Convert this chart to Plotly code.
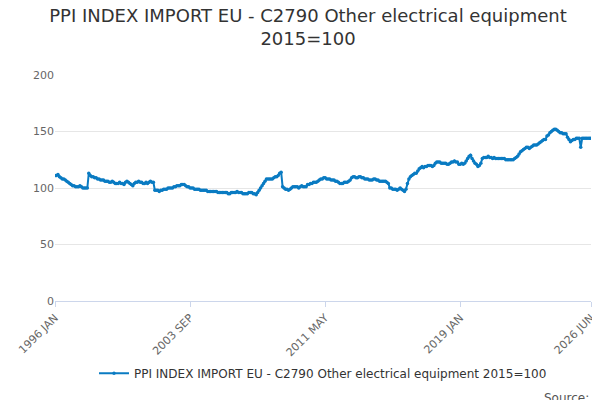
import plotly.graph_objects as go

## monthly index values, one list per year
y1996 = [111, 111, 112, 110, 109, 108, 108, 107, 106, 105, 104, 103]
y1997 = [102, 102, 101, 101, 101, 102, 101, 100, 100, 100, 100, 113]
y1998 = [111, 110, 110, 109, 109, 108, 108, 107, 107, 107, 106, 106]
y1999 = [106, 105, 105, 106, 105, 104, 104, 104, 105, 104, 104, 103]
y2000 = [105, 106, 105, 104, 103, 102, 104, 105, 105, 106, 105, 105]
y2001 = [104, 104, 105, 104, 105, 106, 105, 105, 98, 98, 98, 97]
y2002 = [98, 98, 99, 99, 99, 100, 100, 100, 100, 101, 101, 102]
y2003 = [102, 102, 103, 103, 103, 102, 101, 101, 100, 100, 100, 99]
y2004 = [99, 99, 99, 98, 98, 98, 98, 98, 97, 97, 97, 97]
y2005 = [97, 97, 97, 96, 96, 96, 96, 96, 96, 96, 95, 95]
y2006 = [96, 96, 96, 96, 97, 96, 96, 96, 95, 95, 95, 95]
y2007 = [96, 96, 96, 95, 95, 94, 96, 98, 100, 102, 104, 106]
y2008 = [108, 108, 108, 108, 108, 109, 110, 110, 111, 113, 114, 101]
y2009 = [100, 99, 99, 98, 99, 100, 101, 101, 101, 101, 100, 101]
y2010 = [102, 101, 101, 101, 103, 103, 104, 104, 105, 105, 105, 106]
y2011 = [107, 108, 108, 109, 109, 108, 108, 108, 107, 107, 107, 106]
y2012 = [106, 105, 104, 104, 104, 105, 105, 105, 106, 107, 109, 110]
y2013 = [110, 109, 109, 110, 110, 109, 109, 108, 108, 108, 107, 107]
y2014 = [107, 108, 108, 107, 107, 106, 106, 106, 106, 106, 105, 104]
y2015 = [100, 100, 99, 99, 99, 98, 99, 100, 99, 98, 97, 99]
y2016 = [104, 108, 110, 111, 112, 113, 113, 115, 117, 118, 119, 118]
y2017 = [119, 119, 120, 120, 120, 119, 120, 122, 123, 123, 123, 122]
y2018 = [122, 122, 122, 121, 121, 122, 123, 123, 124, 123, 123, 121]
y2019 = [121, 122, 121, 122, 124, 126, 128, 129, 126, 124, 122, 121]
y2020 = [119, 120, 122, 126, 127, 127, 127, 128, 127, 127, 126, 127]
y2021 = [126, 126, 126, 126, 126, 126, 126, 125, 125, 125, 125, 125]
y2022 = [125, 126, 127, 128, 130, 132, 133, 134, 135, 136, 136, 135]
y2023 = [136, 137, 138, 138, 138, 139, 140, 141, 142, 143, 143, 146]
y2024 = [147, 149, 150, 151, 152, 152, 151, 150, 149, 149, 148, 148]
y2025 = [148, 145, 143, 141, 142, 143, 143, 144, 144, 144, 136, 144]
y2026 = [144, 144, 144, 144, 144, 144]

years = [y1996, y1997, y1998, y1999, y2000, y2001, y2002, y2003, y2004, y2005,
         y2006, y2007, y2008, y2009, y2010, y2011, y2012, y2013, y2014, y2015,
         y2016, y2017, y2018, y2019, y2020, y2021, y2022, y2023, y2024, y2025, y2026]
months = ["JAN", "FEB", "MAR", "APR", "MAY", "JUN", "JUL", "AUG", "SEP", "OCT", "NOV", "DEC"]
tick_labels = ["1996 JAN", "2003 SEP", "2011 MAY", "2019 JAN", "2026 JUN"]

x, y = [], []
for i, vals in enumerate(years):
    for m, v in enumerate(vals):
        x.append(f"{1996 + i} {months[m]}")
        y.append(v)

name = "PPI INDEX IMPORT EU - C2790 Other electrical equipment 2015=100"
fig = go.Figure()
fig.add_trace(go.Scatter(x=x, y=y, mode="lines+markers", name=name,
                         line=dict(color="#0a7bc2", width=2),
                         marker=dict(size=3.5, color="#0a7bc2")))

fig.update_layout(
    width=600, height=400,
    font=dict(family="DejaVu Sans", color="#333"),
    title=dict(text="PPI INDEX IMPORT EU - C2790 Other electrical equipment<br>2015=100",
               x=0.5, y=0.965, font=dict(size=18, color="#333")),
    plot_bgcolor="white", paper_bgcolor="white",
    margin=dict(l=47, r=17, t=67, b=107),
    showlegend=True,
    legend=dict(orientation="h", x=0.5, xanchor="center", y=-0.32, yanchor="middle",
                font=dict(size=12, color="#333")),
    annotations=[dict(text="Source:", x=1.0, xref="paper", xanchor="right",
                      y=-0.43, yref="paper", yanchor="middle", showarrow=False,
                      font=dict(size=12, color="#555"))],
)
fig.update_xaxes(type="category", tickvals=tick_labels, ticktext=tick_labels,
                 tickangle=-45, showgrid=False, showline=True, linecolor="#ccd6eb",
                 ticks="outside", tickcolor="#ccd6eb", range=[0, len(x) - 1],
                 automargin=False, tickfont=dict(size=11, color="#666"))
fig.update_yaxes(range=[0, 200], tickvals=[0, 50, 100, 150, 200],
                 gridcolor="#e6e6e6", zeroline=False, automargin=False,
                 tickfont=dict(size=11, color="#666"))

fig.write_html("out.html")
